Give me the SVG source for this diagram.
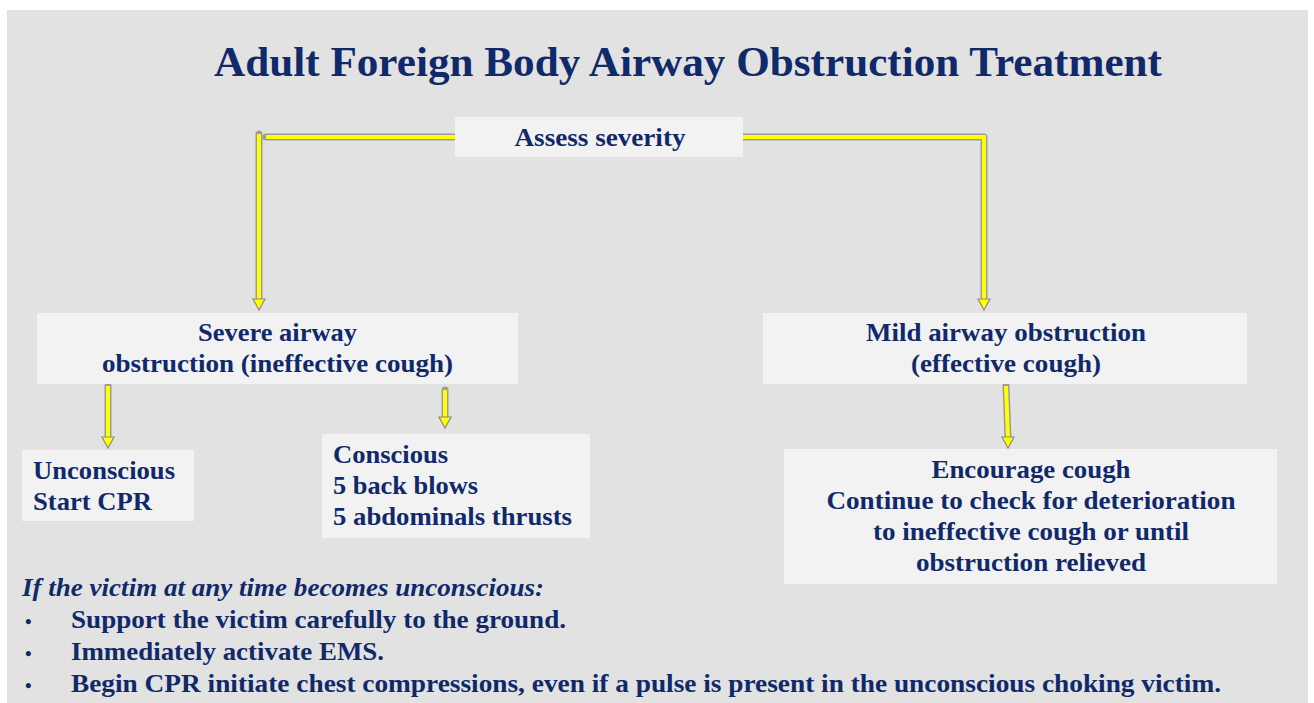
<svg xmlns="http://www.w3.org/2000/svg" width="1314" height="703" viewBox="0 0 1314 703">
<defs>
<style>
.box{fill:#f2f2f2}
.t{font-family:"Liberation Serif","Times New Roman",serif;font-weight:bold;fill:#10296a;font-size:26px}
.c{text-anchor:middle}
.b{font-family:"Liberation Serif","Times New Roman",serif;font-weight:bold;fill:#10296a;font-size:19px}
.sh{fill:none;stroke:#8a8a8a;stroke-width:7;stroke-linecap:round;stroke-linejoin:round;opacity:0.8}
.ln{fill:none;stroke:#ffff00;stroke-width:4;stroke-linecap:butt;stroke-linejoin:miter}
.ah{fill:#ffff00;stroke:#8a8a8a;stroke-width:1.2}
</style>
</defs>
<rect x="0" y="0" width="1314" height="703" fill="#ffffff"/>
<rect x="7" y="10" width="1301" height="693" fill="#e2e2e2"/>
<text class="t c" x="688" y="76" style="font-size:43px" textLength="948" lengthAdjust="spacingAndGlyphs">Adult Foreign Body Airway Obstruction Treatment</text>

<g id="connectors">
<path class="sh" d="M455,137 H266"/>
<path class="ln" d="M455,137 H266"/>
<path class="sh" d="M259,134 V300"/>
<path class="ln" d="M259,134 V300"/>
<path class="ah" d="M253,299 L265,299 L259,310 Z"/>

<path class="sh" d="M743,137 H984 V300"/>
<path class="ln" d="M743,137 H984 V300"/>
<path class="ah" d="M978,299 L990,299 L984,310 Z"/>

<path class="sh" d="M108,386 V438"/>
<path class="ln" d="M108,386 V438"/>
<path class="ah" d="M102,437 L114,437 L108,448 Z"/>

<path class="sh" d="M445,390 V418"/>
<path class="ln" d="M445,390 V418"/>
<path class="ah" d="M439,417 L451,417 L445,428 Z"/>

<path class="sh" d="M1006,386 L1008,438"/>
<path class="ln" d="M1006,386 L1008,438"/>
<path class="ah" d="M1002,437 L1014,437 L1008,448 Z"/>
</g>

<g id="assess">
<rect class="box" x="455" y="117" width="288" height="40"/>
<text class="t c" x="600" y="146" textLength="171" lengthAdjust="spacingAndGlyphs">Assess severity</text>
</g>

<g id="severe">
<rect class="box" x="37" y="313" width="481" height="71"/>
<text class="t c" x="277.5" y="341" textLength="159" lengthAdjust="spacingAndGlyphs">Severe airway</text>
<text class="t c" x="277.5" y="372" textLength="351" lengthAdjust="spacingAndGlyphs">obstruction (ineffective cough)</text>
</g>

<g id="unconscious">
<rect class="box" x="22" y="450" width="172" height="71"/>
<text class="t" x="33" y="479" textLength="142" lengthAdjust="spacingAndGlyphs">Unconscious</text>
<text class="t" x="33" y="510" textLength="119" lengthAdjust="spacingAndGlyphs">Start CPR</text>
</g>

<g id="conscious">
<rect class="box" x="322" y="434" width="268" height="104"/>
<text class="t" x="333" y="463" textLength="115" lengthAdjust="spacingAndGlyphs">Conscious</text>
<text class="t" x="333" y="494" textLength="145" lengthAdjust="spacingAndGlyphs">5 back blows</text>
<text class="t" x="333" y="525" textLength="239" lengthAdjust="spacingAndGlyphs">5 abdominals  thrusts</text>
</g>

<g id="mild">
<rect class="box" x="763" y="313" width="484" height="71"/>
<text class="t c" x="1006" y="341" textLength="280" lengthAdjust="spacingAndGlyphs">Mild airway obstruction</text>
<text class="t c" x="1006" y="372" textLength="190" lengthAdjust="spacingAndGlyphs">(effective cough)</text>
</g>

<g id="encourage">
<rect class="box" x="784" y="449" width="493" height="135"/>
<text class="t c" x="1031" y="478" textLength="199" lengthAdjust="spacingAndGlyphs">Encourage cough</text>
<text class="t c" x="1031" y="509" textLength="409" lengthAdjust="spacingAndGlyphs">Continue to check for deterioration</text>
<text class="t c" x="1031" y="540" textLength="316" lengthAdjust="spacingAndGlyphs">to ineffective cough or until</text>
<text class="t c" x="1031" y="571" textLength="230" lengthAdjust="spacingAndGlyphs">obstruction relieved</text>
</g>

<g id="notes">
<text class="t" x="22" y="596" style="font-style:italic" textLength="522" lengthAdjust="spacingAndGlyphs">If the victim at any time becomes unconscious:</text>
<text class="b" x="25" y="628">•</text>
<text class="t" x="71" y="628" textLength="495" lengthAdjust="spacingAndGlyphs">Support the victim carefully to the ground.</text>
<text class="b" x="25" y="660">•</text>
<text class="t" x="71" y="660" textLength="313" lengthAdjust="spacingAndGlyphs">Immediately activate EMS.</text>
<text class="b" x="25" y="692">•</text>
<text class="t" x="71" y="692" textLength="1150" lengthAdjust="spacingAndGlyphs">Begin CPR  initiate chest compressions, even if a pulse is present in the unconscious choking victim.</text>
</g>
</svg>
